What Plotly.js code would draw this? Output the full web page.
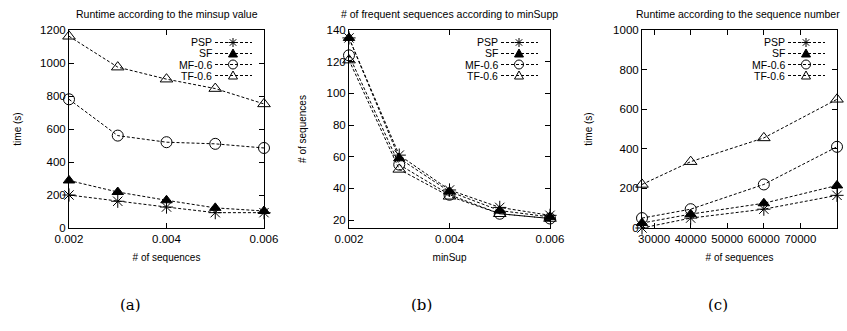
<!DOCTYPE html>
<html><head><meta charset="utf-8">
<script src="https://cdn.plot.ly/plotly-3.0.1.min.js"></script>
<style>html,body{margin:0;padding:0;background:#fff}#chart{width:847px;height:331px}</style>
</head><body><div id="chart"></div>
<script>
const seriesNames = ["PSP", "SF", "MF-0.6", "TF-0.6"];
// panel (a)
const minsupA = [0.002, 0.003, 0.004, 0.005, 0.006];
const runtimeA_PSP = [200, 162, 127, 93, 93];
const runtimeA_SF = [288, 218, 168, 122, 103];
const runtimeA_MF = [780, 560, 520, 510, 485];
const runtimeA_TF = [1162, 975, 902, 845, 752];
// panel (b)
const minsupB = [0.002, 0.003, 0.004, 0.005, 0.006];
const countB_PSP = [135, 61, 39, 28, 23];
const countB_SF = [135, 59, 38, 26, 22];
const countB_MF = [124, 55, 36, 24, 21];
const countB_TF = [121, 52, 35, 24, 21];
// panel (c)
const seqC = [26700, 40000, 60000, 80000];
const runtimeC_PSP = [0, 50, 95, 165];
const runtimeC_SF = [25, 70, 125, 215];
const runtimeC_MF = [50, 95, 220, 410];
const runtimeC_TF = [220, 335, 455, 650];

const markerStyles = [
  {symbol: "asterisk-open", size: 11, color: "#000", line: {color: "#000", width: 1}},
  {symbol: "triangle-up", size: 10, color: "#000", line: {color: "#000", width: 1}},
  {symbol: "circle-open", size: 11, color: "#000", line: {color: "#000", width: 1}},
  {symbol: "triangle-up-open", size: 11, color: "#000", line: {color: "#000", width: 1}}
];
const lineStyle = {color: "#000", width: 1, dash: "3px,2px"};

function panelTraces(x, ys, ax) {
  return ys.map((y, i) => ({
    type: "scatter", mode: "lines+markers", x: x, y: y, name: seriesNames[i],
    xaxis: "x" + ax, yaxis: "y" + ax, showlegend: false,
    line: lineStyle, marker: markerStyles[i], cliponaxis: false
  }));
}

const data = [
  ...panelTraces(minsupA, [runtimeA_PSP, runtimeA_SF, runtimeA_MF, runtimeA_TF], ""),
  ...panelTraces(minsupB, [countB_PSP, countB_SF, countB_MF, countB_TF], "2"),
  ...panelTraces(seqC, [runtimeC_PSP, runtimeC_SF, runtimeC_MF, runtimeC_TF], "3")
];

const W = 847, H = 331;
const px = v => v / W, py = v => 1 - v / H;
const yDom = [py(228), py(30)];
const FAM = "Liberation Sans, Arial, sans-serif";
const font = {family: FAM, size: 11, color: "#000"};
function axisBase(extra) {
  return Object.assign({
    showgrid: false, zeroline: false, showline: true, linecolor: "#000", linewidth: 1,
    mirror: "allticks", ticks: "inside", ticklen: 5, tickcolor: "#000", tickwidth: 1,
    tickfont: {family: FAM, size: 11.5, color: "#000"}, automargin: false, fixedrange: true
  }, extra);
}

// gnuplot-style key: text right-aligned, then dashed sample with the point in its middle
const keyRowsY = [42.5, 53.5, 64.5, 75.5];
const keyRights = [264, 550, 837];
const keyAnn = [], keyShapes = [];
keyRights.forEach(R => {
  const textRight = R - 51, lineL = R - 49, lineR = R - 12, mx = R - 31;
  seriesNames.forEach((nm, i) => {
    const y = keyRowsY[i];
    keyAnn.push({text: nm, x: px(textRight), y: py(y), xref: "paper", yref: "paper",
      showarrow: false, xanchor: "right", yanchor: "middle", borderpad: 0,
      font: {family: FAM, size: 10.5, color: "#000"}});
    keyShapes.push({type: "line", xref: "paper", yref: "paper",
      x0: px(lineL), x1: px(lineR), y0: py(y), y1: py(y),
      line: {color: "#000", width: 1, dash: "3px,2px"}});
    const r = 4.5;
    let path, fill = "rgba(0,0,0,0)";
    if (i === 0) {
      const d = r * 0.72;
      path = `M${px(mx - r)},${py(y)} L${px(mx + r)},${py(y)} M${px(mx)},${py(y - r)} L${px(mx)},${py(y + r)} ` +
             `M${px(mx - d)},${py(y - d)} L${px(mx + d)},${py(y + d)} M${px(mx - d)},${py(y + d)} L${px(mx + d)},${py(y - d)}`;
    } else if (i === 1 || i === 3) {
      path = `M${px(mx - 4.5)},${py(y + 3.5)} L${px(mx + 4.5)},${py(y + 3.5)} L${px(mx)},${py(y - 4.5)} Z`;
      if (i === 1) fill = "#000";
    }
    if (i === 2) {
      keyShapes.push({type: "circle", xref: "paper", yref: "paper",
        x0: px(mx - r), x1: px(mx + r), y0: py(y + r), y1: py(y - r),
        line: {color: "#000", width: 1}, fillcolor: "rgba(0,0,0,0)"});
    } else {
      keyShapes.push({type: "path", xref: "paper", yref: "paper", path: path,
        line: {color: "#000", width: 1}, fillcolor: fill});
    }
  });
});

const layout = {
  width: W, height: H, margin: {l: 0, r: 0, t: 0, b: 0},
  paper_bgcolor: "#fff", plot_bgcolor: "#fff", font: font, showlegend: false,
  xaxis: axisBase({domain: [px(69), px(264)], range: [0.002, 0.006], dtick: 0.002, tick0: 0.002,
    anchor: "y", title: {text: "# of sequences", font: {size: 10}, standoff: 10}}),
  yaxis: axisBase({domain: yDom, range: [0, 1200], dtick: 200, anchor: "x",
    title: {text: "time (s)", font: {size: 10}, standoff: 16}}),
  xaxis2: axisBase({domain: [px(349), px(550)], range: [0.002, 0.006], dtick: 0.002, tick0: 0.002,
    anchor: "y2", title: {text: "minSup", font: {size: 10}, standoff: 10}}),
  yaxis2: axisBase({domain: yDom, range: [15, 140], dtick: 20, tick0: 0, anchor: "x2",
    title: {text: "# of sequences", font: {size: 10}, standoff: 18}}),
  xaxis3: axisBase({domain: [px(642), px(837)], range: [26700, 80000], dtick: 10000, tick0: 0,
    tickformat: "d", anchor: "y3", title: {text: "# of sequences", font: {size: 10}, standoff: 10}}),
  yaxis3: axisBase({domain: yDom, range: [0, 1000], dtick: 200, anchor: "x3",
    title: {text: "time (s)", font: {size: 10}, standoff: 18}}),
  shapes: keyShapes,
  annotations: [
    {text: "Runtime according to the minsup value", x: px(167), y: py(14)},
    {text: "# of frequent sequences according to minSupp", x: px(449), y: py(14)},
    {text: "Runtime according to the sequence number", x: px(738), y: py(14)},
  ].map(a => Object.assign(a, {xref: "paper", yref: "paper", showarrow: false,
    xanchor: "center", yanchor: "middle", font: {family: FAM, size: 10.5, color: "#000"}}))
  .concat([
    {text: "(a)", x: px(130)},
    {text: "(b)", x: px(421)},
    {text: "(c)", x: px(718)}
  ].map(a => Object.assign(a, {y: py(305), xref: "paper", yref: "paper", showarrow: false,
    xanchor: "center", yanchor: "middle",
    font: {family: "DejaVu Serif, Liberation Serif, serif", size: 15, color: "#000"}})))
  .concat(keyAnn)
};

Plotly.newPlot("chart", data, layout, {displayModeBar: false, staticPlot: true});
</script></body></html>
